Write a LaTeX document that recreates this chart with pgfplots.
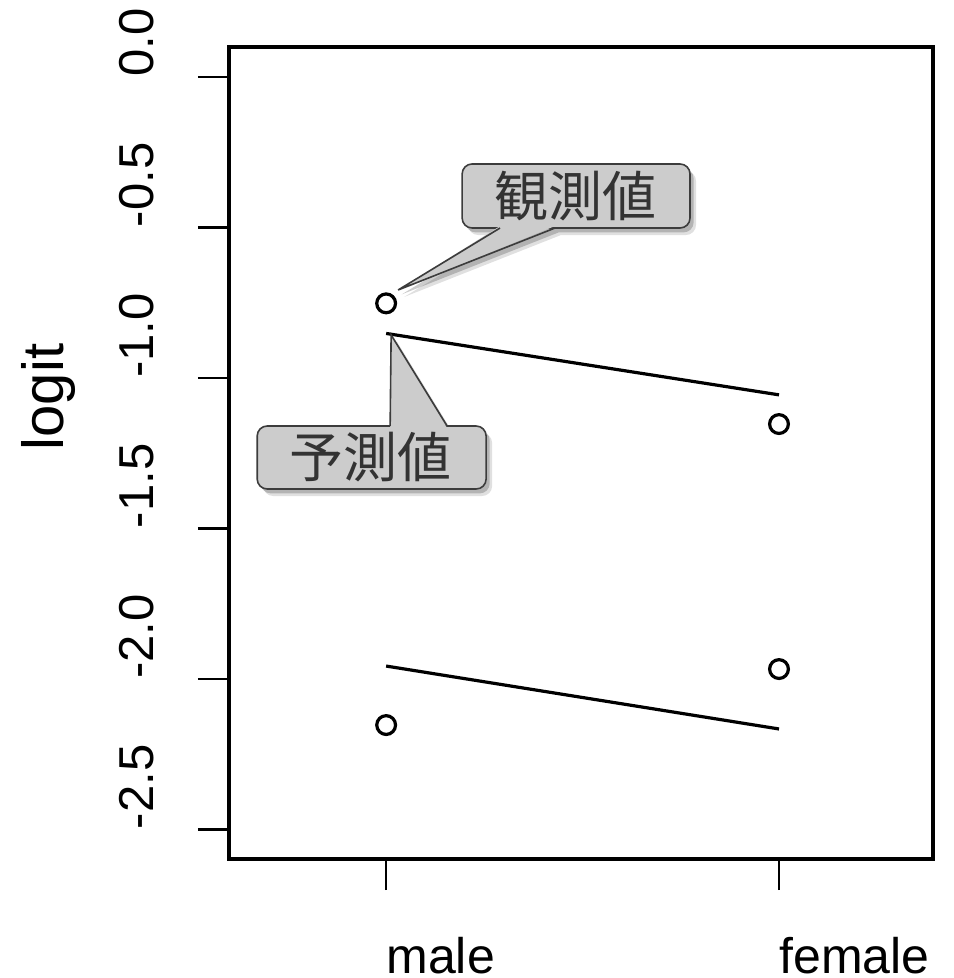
\documentclass[border=0pt]{standalone}
\usepackage{fontspec}
\setmainfont{Liberation Sans}
\newfontfamily\cjk{Noto Sans CJK JP}
\usepackage{pgfplots}
\pgfplotsset{compat=1.18}
\definecolor{callfill}{RGB}{204,204,204}
\definecolor{callline}{RGB}{60,60,60}
\definecolor{calltext}{RGB}{51,51,51}
\begin{document}
\begin{tikzpicture}
\begin{axis}[
  at={(0,0)}, anchor=south west,
  scale only axis, width=352pt, height=406pt,
  xmin=-0.4, xmax=1.392, ymin=-2.598, ymax=0.0997,
  axis line style={line width=1.6pt},
  xtick={0,1}, xticklabels={male,female},
  ytick={-2.5,-2,-1.5,-1,-0.5,0},
  yticklabels={-2.5,-2.0,-1.5,-1.0,-0.5,0.0},
  tick align=outside, major tick length=15.5pt,
  tick style={line width=1.35pt, black},
  tick pos=left,
  xticklabel style={font=\fontsize{25}{30}\selectfont, anchor=north west, inner sep=0pt},
  xticklabel shift=23.5pt,
  yticklabel style={font=\fontsize{24.5}{29}\selectfont, rotate=90, anchor=south west, inner sep=0pt},
  yticklabel shift=22pt,
  ylabel={logit},
  ylabel style={font=\fontsize{29}{34}\selectfont, at={(axis description cs:-0.257,0.569)}, anchor=center},
  clip=false,
]
\addplot[no marks, line width=1.6pt] coordinates {(0,-0.852) (1,-1.056)};
\addplot[no marks, line width=1.6pt] coordinates {(0,-1.957) (1,-2.166)};
\addplot[only marks, mark=o, mark size=4.7pt, line width=1.6pt] coordinates {(0,-0.752) (1,-1.153) (0,-2.153) (1,-1.967)};

% callout 1 (observed)
\fill[black, opacity=0.12, xshift=3pt, yshift=-3.5pt]
  {[rounded corners=5pt] (axis cs:0.1934,-0.5017) rectangle (axis cs:0.7735,-0.289)}
  (axis cs:0.0305,-0.7076) -- (axis cs:0.290,-0.5017) -- (axis cs:0.430,-0.5017) -- cycle;
\fill[black, opacity=0.2, xshift=1.8pt, yshift=-2.2pt]
  {[rounded corners=5pt] (axis cs:0.1934,-0.5017) rectangle (axis cs:0.7735,-0.289)}
  (axis cs:0.0305,-0.7076) -- (axis cs:0.290,-0.5017) -- (axis cs:0.430,-0.5017) -- cycle;
\filldraw[fill=callfill, draw=callline, line width=0.8pt, rounded corners=5pt]
  (axis cs:0.1934,-0.5017) rectangle (axis cs:0.7735,-0.289);
\fill[callfill] (axis cs:0.0305,-0.7076) -- ([yshift=1pt]axis cs:0.290,-0.5017) -- ([yshift=1pt]axis cs:0.430,-0.5017) -- cycle;
\draw[callline, line width=0.8pt] (axis cs:0.290,-0.5017) -- (axis cs:0.0305,-0.7076) -- (axis cs:0.430,-0.5017);
\node[text=calltext, font=\cjk\fontsize{27}{32}\selectfont] at (axis cs:0.481,-0.395) {観測値};

% callout 2 (predicted)
\fill[black, opacity=0.12, xshift=3pt, yshift=-3.5pt]
  {[rounded corners=5pt] (axis cs:-0.3282,-1.3688) rectangle (axis cs:0.2545,-1.1595)}
  (axis cs:0.0127,-0.857) -- (axis cs:0.0102,-1.1595) -- (axis cs:0.1552,-1.1595) -- cycle;
\fill[black, opacity=0.2, xshift=1.8pt, yshift=-2.2pt]
  {[rounded corners=5pt] (axis cs:-0.3282,-1.3688) rectangle (axis cs:0.2545,-1.1595)}
  (axis cs:0.0127,-0.857) -- (axis cs:0.0102,-1.1595) -- (axis cs:0.1552,-1.1595) -- cycle;
\filldraw[fill=callfill, draw=callline, line width=0.8pt, rounded corners=5pt]
  (axis cs:-0.3282,-1.3688) rectangle (axis cs:0.2545,-1.1595);
\fill[callfill] (axis cs:0.0127,-0.857) -- ([yshift=-1pt]axis cs:0.0102,-1.1595) -- ([yshift=-1pt]axis cs:0.1552,-1.1595) -- cycle;
\draw[callline, line width=0.8pt] (axis cs:0.0102,-1.1595) -- (axis cs:0.0127,-0.857) -- (axis cs:0.1552,-1.1595);
\node[text=calltext, font=\cjk\fontsize{27}{32}\selectfont] at (axis cs:-0.0407,-1.262) {予測値};
\end{axis}
\pgfresetboundingbox
\useasboundingbox (-114.5pt,-59.5pt) rectangle (362pt,429.5pt);
\end{tikzpicture}
\end{document}
